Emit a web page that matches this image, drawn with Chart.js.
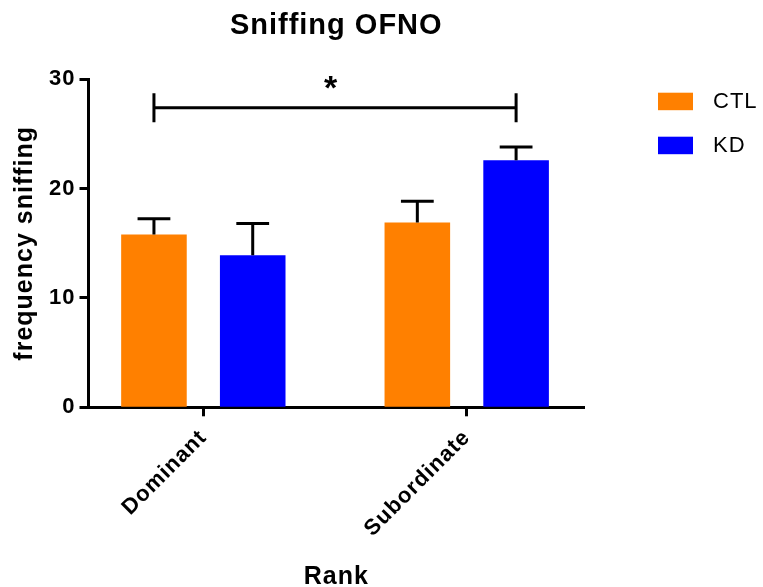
<!DOCTYPE html>
<html>
<head>
<meta charset="utf-8">
<title>Sniffing OFNO</title>
<script src="https://cdn.jsdelivr.net/npm/chart.js@4.4.1/dist/chart.umd.min.js"></script>
<style>
  html, body { margin: 0; padding: 0; background: #ffffff; }
  #box { width: 763px; height: 587px; }
</style>
</head>
<body>
<div id="box"><canvas id="chart" width="763" height="587"></canvas></div>
<script>
// Rank groups on the x axis
const categories = ['Dominant', 'Subordinate'];
// Mean sniffing frequency and SEM for each group
const ctlMeans = [15.8, 16.9];
const ctlSem   = [1.45, 1.95];
const kdMeans  = [13.9, 22.6];
const kdSem    = [2.9, 1.2];
// Value-axis ticks
const yTicks = [0, 10, 20, 30];
// Significance bracket: CTL Dominant vs KD Subordinate
const sigLevel = 27.4;
const sigMark = '*';

const FONT = "'Liberation Sans', Arial, Helvetica, sans-serif";
const INK = '#000000';
const COLORS = { CTL: '#FF8000', KD: '#0000FF' };

// Slightly open tracking for all canvas text
const spacing = {
  id: 'spacing',
  beforeUpdate(chart) { chart.ctx.letterSpacing = '1px'; },
  beforeDraw(chart) { chart.ctx.letterSpacing = '1px'; }
};

// SEM whiskers (upper only) with a cap half the bar width
const errorBars = {
  id: 'errorBars',
  afterDatasetsDraw(chart) {
    const { ctx, scales: { y } } = chart;
    ctx.save();
    ctx.strokeStyle = INK;
    ctx.lineWidth = 3;
    ctx.lineCap = 'butt';
    chart.data.datasets.forEach((ds, di) => {
      chart.getDatasetMeta(di).data.forEach((bar, i) => {
        const top = y.getPixelForValue(ds.data[i].y + ds.sem[i]);
        const half = bar.width / 4;
        ctx.beginPath();
        ctx.moveTo(bar.x, bar.y);
        ctx.lineTo(bar.x, top);
        ctx.moveTo(bar.x - half, top);
        ctx.lineTo(bar.x + half, top);
        ctx.stroke();
      });
    });
    ctx.restore();
  }
};

// Comparison bracket with its significance mark
const significance = {
  id: 'significance',
  afterDatasetsDraw(chart) {
    const { ctx, scales: { y } } = chart;
    const a = chart.getDatasetMeta(0).data[0];
    const b = chart.getDatasetMeta(1).data[1];
    const yy = y.getPixelForValue(sigLevel);
    const tick = 14.5;
    ctx.save();
    ctx.strokeStyle = INK;
    ctx.lineWidth = 3;
    ctx.beginPath();
    ctx.moveTo(a.x, yy); ctx.lineTo(b.x, yy);
    ctx.moveTo(a.x, yy - tick); ctx.lineTo(a.x, yy + tick);
    ctx.moveTo(b.x, yy - tick); ctx.lineTo(b.x, yy + tick);
    ctx.stroke();
    ctx.fillStyle = INK;
    ctx.font = `bold 34px ${FONT}`;
    ctx.textAlign = 'center';
    ctx.textBaseline = 'alphabetic';
    ctx.fillText(sigMark, (a.x + b.x) / 2 - 4, yy - 9);
    ctx.restore();
  }
};

// Legend to the right of the plot
const sideLegend = {
  id: 'sideLegend',
  afterDraw(chart) {
    const { ctx } = chart;
    const x0 = chart.chartArea.right + 74;
    const y0 = 92.7, rowGap = 44, bw = 35, bh = 17.5;
    ctx.save();
    ctx.font = `22px ${FONT}`;
    ctx.textAlign = 'left';
    ctx.textBaseline = 'middle';
    chart.data.datasets.forEach((ds, i) => {
      const top = y0 + i * rowGap;
      ctx.fillStyle = ds.backgroundColor;
      ctx.fillRect(x0, top, bw, bh);
      ctx.fillStyle = INK;
      ctx.fillText(ds.label, x0 + bw + 20, top + bh / 2);
    });
    ctx.restore();
  }
};

new Chart(document.getElementById('chart'), {
  type: 'bar',
  data: {
    datasets: [
      { label: 'CTL', data: categories.map((c, i) => ({ x: i + 1, y: ctlMeans[i] })), sem: ctlSem, backgroundColor: COLORS.CTL },
      { label: 'KD',  data: categories.map((c, i) => ({ x: i + 1, y: kdMeans[i] })),  sem: kdSem,  backgroundColor: COLORS.KD }
    ]
  },
  options: {
    responsive: false,
    animation: false,
    devicePixelRatio: 1,
    events: [],
    categoryPercentage: 0.75,
    barPercentage: 0.664,
    layout: { padding: { top: 0, right: 179, bottom: 0, left: 0 } },
    plugins: {
      legend: { display: false },
      tooltip: { enabled: false },
      title: {
        display: true,
        fullSize: false,
        text: 'Sniffing OFNO',
        color: INK,
        font: { family: FONT, size: 29, weight: 'bold', lineHeight: 1.2 },
        padding: { top: 9, bottom: 35.5 }
      }
    },
    scales: {
      x: {
        type: 'linear',
        min: 0.564,
        max: 2.4453,
        offset: false,
        afterBuildTicks(scale) { scale.ticks = categories.map((c, i) => ({ value: i + 1 })); },
        afterFit(scale) { scale.height = 179.7; },
        ticks: {
          color: INK,
          font: { family: FONT, size: 22, weight: 'bold', lineHeight: 1 },
          minRotation: 45,
          maxRotation: 45,
          padding: 10,
          autoSkip: false,
          callback: v => categories[v - 1]
        },
        grid: { display: true, drawOnChartArea: false, drawTicks: true, tickLength: 9, tickWidth: 3, tickColor: INK, offset: false },
        border: { display: true, color: INK, width: 3 },
        title: { display: true, text: 'Rank', color: INK, font: { family: FONT, size: 25, weight: 'bold', lineHeight: 0.8 }, padding: 0 }
      },
      y: {
        min: 0,
        max: 30,
        afterBuildTicks(scale) { scale.ticks = yTicks.map(v => ({ value: v })); },
        afterFit(scale) { scale.width = 88.5; },
        ticks: { color: INK, font: { family: FONT, size: 22, weight: 'bold' }, padding: 4 },
        grid: { drawOnChartArea: false, drawTicks: true, tickLength: 9, tickWidth: 3, tickColor: INK },
        border: { display: true, color: INK, width: 3 },
        title: { display: true, text: 'frequency sniffing', color: INK, font: { family: FONT, size: 25, weight: 'bold', lineHeight: 1 }, padding: { top: 12.5, bottom: 0 } }
      }
    }
  },
  plugins: [spacing, errorBars, significance, sideLegend]
});
</script>
</body>
</html>
